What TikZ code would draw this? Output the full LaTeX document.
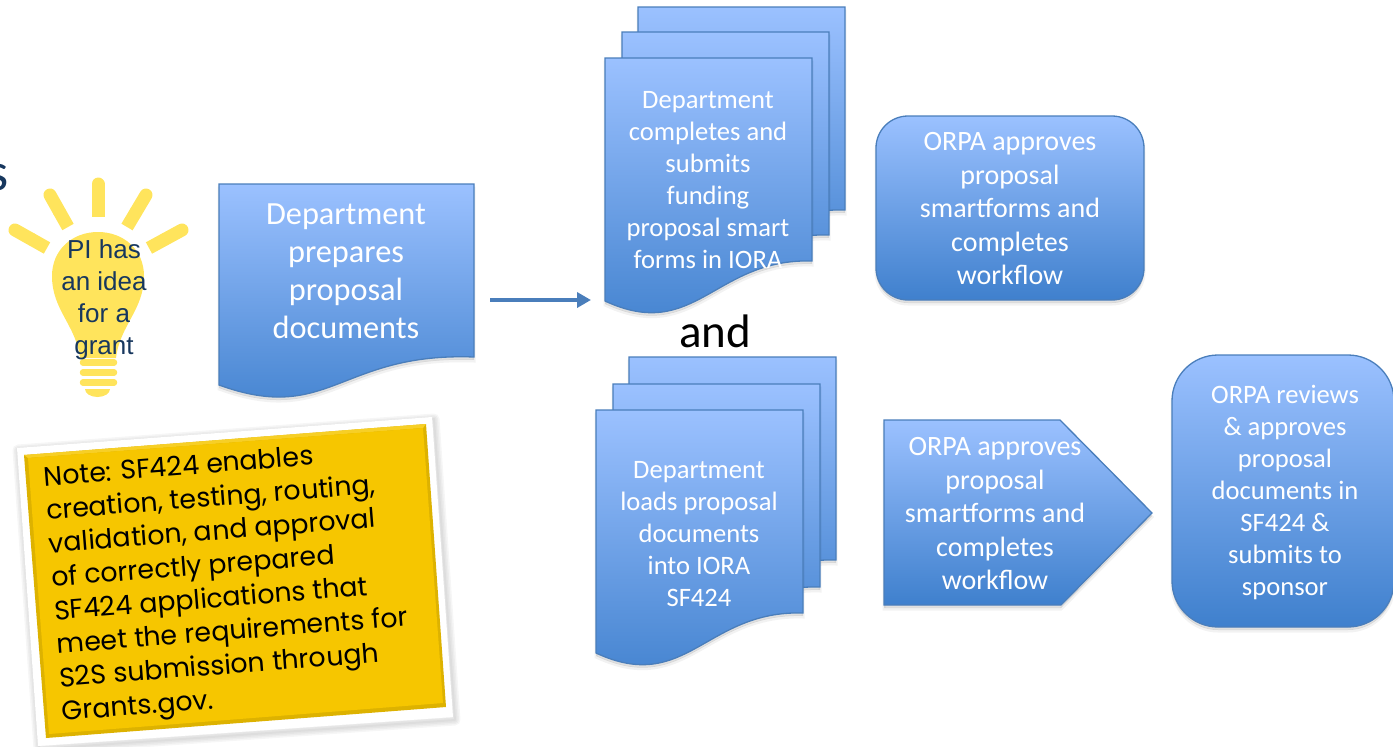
\documentclass[tikz,border=0pt]{standalone}
\usepackage{fontspec}
\usetikzlibrary{arrows.meta}
\setmainfont{Carlito}
\newfontfamily\bulbfont{Liberation Sans}
\newfontfamily\notefont{Poppins}
\definecolor{sheettop}{HTML}{9BC1FF}
\definecolor{sheetbottom}{HTML}{3F80CD}
\definecolor{sheetline}{HTML}{4A7EBB}
\definecolor{bulbyellow}{HTML}{FFE45C}
\definecolor{navytext}{HTML}{17375E}
\definecolor{noteyellow}{HTML}{F6C600}
\tikzset{
	softshade/.style={
		preaction={draw=black,line width=3pt,opacity=.05,transform canvas={yshift=-4pt}},
		preaction={fill=black,opacity=.12,transform canvas={yshift=-3pt}}},
	bluefill/.style={draw=sheetline,line width=1.3pt,top color=sheettop,bottom color=sheetbottom,softshade},
	roundbox/.style={bluefill,rectangle,minimum width=#1},
	bluetext/.style={white,align=center,font=\fontsize{26.6}{32}\selectfont},
	orpatext/.style={white,align=center,font=\fontsize{28}{33.5}\selectfont},
	sheet/.pic={
		\draw [bluefill] (0,0) -- (207,0) -- (207,203) .. controls (110,200) and (90,285) .. (0,243) -- cycle;
	},
}
\begin{document}
\begin{tikzpicture}[x=1pt,y=-1pt]
	\useasboundingbox (0,0) rectangle (1393,747);
	\node [navytext,anchor=east,inner sep=0pt,font=\fontsize{54}{54}\selectfont] (cutoff) at (9,178) {s};
	% bulb
	\foreach \xa/\ya/\xb/\yb in {98/184/98/217, 50/195/68/227, 146/195/127/227, 15/230/47/248, 182/230/149/248} {
		\draw [bulbyellow,line width=13pt,line cap=round] (\xa,\ya) -- ({(\xa+\xb)/2},{(\ya+\yb)/2});
		\draw [bulbyellow,line width=13pt] ({(\xa+\xb)/2},{(\ya+\yb)/2}) -- (\xb,\yb);
	}
	\fill [bulbyellow] (80,358) .. controls (76,325) and (52,310) .. (52,276) .. controls (52,250) and (72,232) .. (98,232) .. controls (124,232) and (144,250) .. (144,276) .. controls (144,310) and (120,325) .. (116,358) -- cycle;
	\foreach \y in {362.5, 372.5, 382.5} {
		\draw [bulbyellow,line width=6.5pt,line cap=round] (83,\y) -- (114,\y);
	}
	\fill [bulbyellow] (85,389) arc [start angle=180,end angle=360,x radius=12.5,y radius=-8] -- cycle;
	\node [navytext,align=center,font=\bulbfont\fontsize{26}{32}\selectfont] (idea) at (104,300) {PI has\\an idea\\for a\\grant};
	% first document
	\draw [bluefill] (219,184) -- (474,184) -- (474,357) .. controls (340,352) and (329,425) .. (219,385) -- cycle;
	\node [bluetext,font=\fontsize{32.3}{38}\selectfont] (prepare) at (346,271) {Department\\prepares\\proposal\\documents};
	\coordinate (arrowstart) at (490,300);
	\coordinate (arrowend) at (591,300);
	\draw [-{Triangle[length=14pt,width=15pt]},sheetline,line width=4pt] (arrowstart) -- (arrowend);
	% upper and lower stacks
	\foreach \x/\y in {638/7, 622/32, 605/58, 629/357, 613/384, 596/410} {
		\pic at (\x,\y) {sheet};
	}
	\node [bluetext] (smartforms) at (708,180) {Department\\completes and\\submits\\funding\\proposal smart\\forms in IORA};
	\node [black,font=\fontsize{47}{47}\selectfont] (andword) at (715,331) {and};
	\node [bluetext] (loads) at (699,534) {Department\\loads proposal\\documents\\into IORA\\SF424};
	% ORPA steps
	\node [roundbox=268pt,minimum height=184pt,rounded corners=32pt] (approveup) at (1010,208) {};
	\node [orpatext] (approveuptext) at (1010,209) {ORPA approves\\proposal\\smartforms and\\completes\\workflow};
	\draw [bluefill] (884,420) -- (1060,420) -- (1152,513) -- (1061,605) -- (884,605) -- cycle;
	\node [orpatext] (approvedown) at (995,514) {ORPA approves\\proposal\\smartforms and\\completes\\workflow};
	\node [roundbox=222pt,minimum height=272pt,rounded corners=46pt] (submitbox) at (1283,491) {};
	\node [bluetext] (submit) at (1285,492) {ORPA reviews\\\& approves\\proposal\\documents in\\SF424 \&\\submits to\\sponsor};
	% note
	\foreach \w in {2,5,8,11} {
		\draw [black,opacity=.035,line width=\w pt,line join=round] (18,450) -- (434,419) -- (455,720) -- (39,749) -- cycle;
	}
	\fill [white] (17,448) -- (432,417) -- (453,717) -- (38,746) -- cycle;
	\fill [noteyellow!90!black] (24,455) -- (426,424) -- (446,707) -- (46,738) -- cycle;
	\fill [noteyellow!85!white] (24,455) -- (426,424) -- (423,428) -- (28,458) -- cycle;
	\fill [noteyellow] (28,458) -- (423,428) -- (443,703) -- (49,734) -- cycle;
	\node [black,anchor=west,rotate=4.5,inner sep=0pt,align=left,font=\notefont\fontsize{26.8}{33.6}\selectfont] (note) at (53,597) {Note: SF424 enables\\creation, testing, routing,\\validation, and approval\\of correctly prepared\\SF424 applications that\\meet the requirements for\\S2S submission through\\Grants.gov.};
\end{tikzpicture}
\end{document}
